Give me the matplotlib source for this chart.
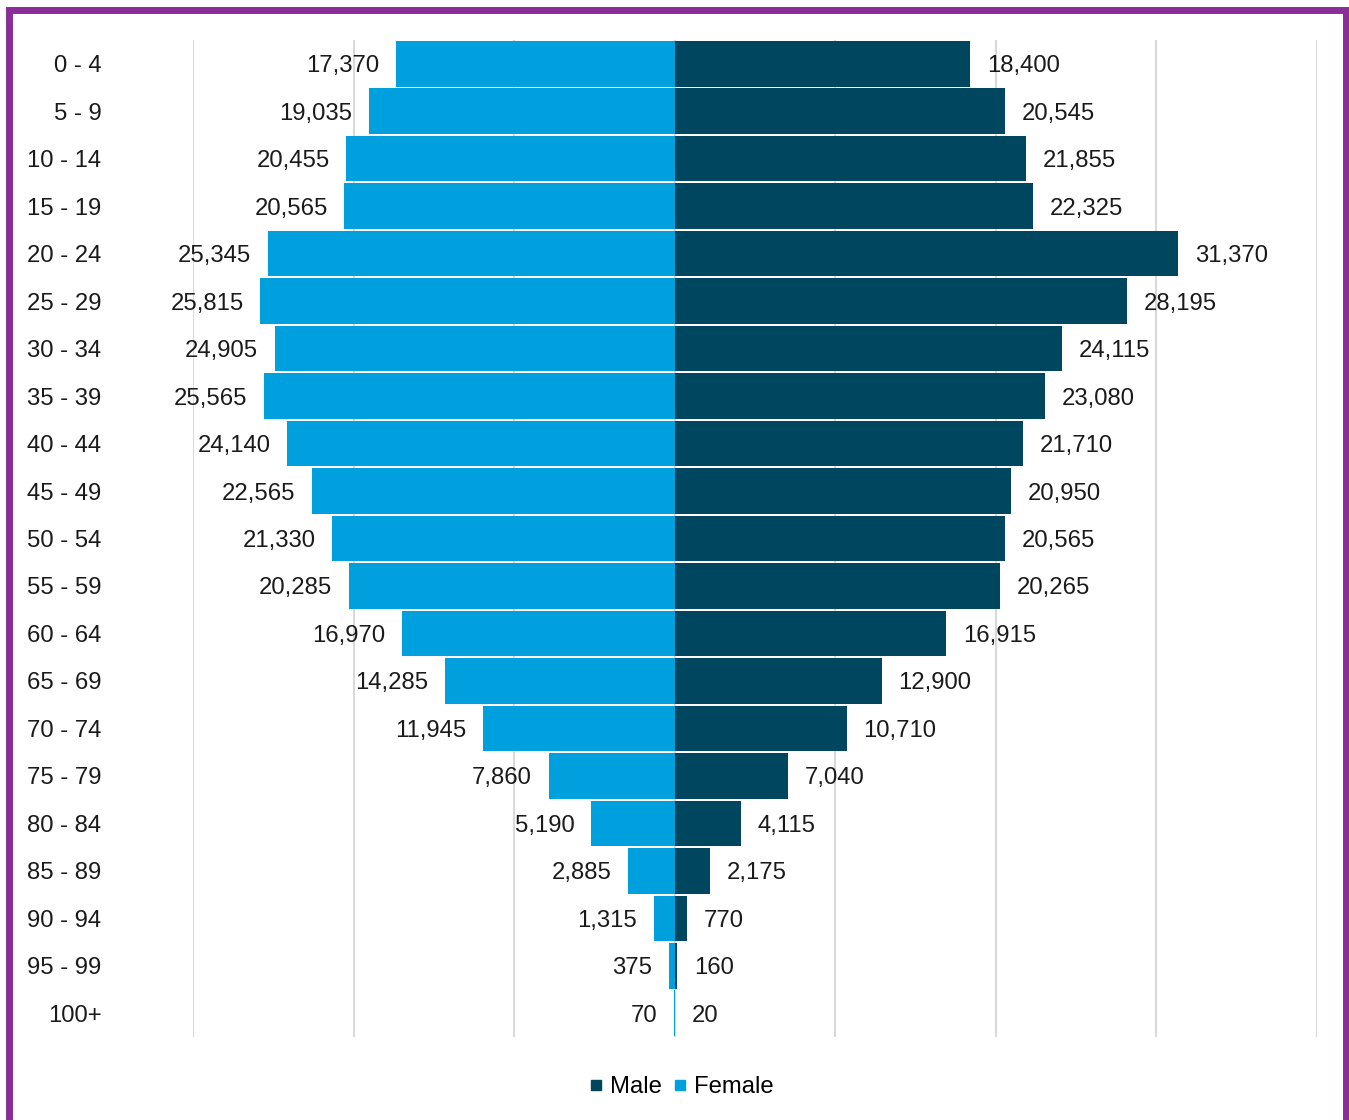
import numpy as np
import matplotlib.pyplot as plt
from matplotlib.patches import Rectangle
from matplotlib.lines import Line2D

plt.rcParams['font.family'] = ['Liberation Sans', 'DejaVu Sans']

age_groups = ['0 - 4', '5 - 9', '10 - 14', '15 - 19', '20 - 24', '25 - 29', '30 - 34',
              '35 - 39', '40 - 44', '45 - 49', '50 - 54', '55 - 59', '60 - 64', '65 - 69',
              '70 - 74', '75 - 79', '80 - 84', '85 - 89', '90 - 94', '95 - 99', '100+']
male = [18400, 20545, 21855, 22325, 31370, 28195, 24115, 23080, 21710, 20950, 20565,
        20265, 16915, 12900, 10710, 7040, 4115, 2175, 770, 160, 20]
female = [17370, 19035, 20455, 20565, 25345, 25815, 24905, 25565, 24140, 22565, 21330,
          20285, 16970, 14285, 11945, 7860, 5190, 2885, 1315, 375, 70]

male_col = '#00465F'
female_col = '#009FDE'
fs = 17.2

fig = plt.figure(figsize=(13.49, 11.2), dpi=100)
ax = fig.add_axes([193/1349, 1 - 1037/1120, (1317-193)/1349, (1037-40)/1120])

y = np.arange(len(age_groups))
ax.barh(y, male, height=0.96, color=male_col, zorder=2)
ax.barh(y, [-v for v in female], height=0.96, color=female_col, zorder=2)

for i in range(len(age_groups)):
    ax.annotate(f'{male[i]:,}', (male[i], i), xytext=(12, 0), textcoords='offset points',
                ha='left', va='center_baseline', fontsize=fs, color='#1a1a1a')
    ax.annotate(f'{female[i]:,}', (-female[i], i), xytext=(-12, 0), textcoords='offset points',
                ha='right', va='center_baseline', fontsize=fs, color='#1a1a1a')

ax.set_xlim(-30000, 40000)
ax.set_ylim(len(age_groups) - 0.5, -0.5)
ax.set_xticks(np.arange(-30000, 40001, 10000))
ax.set_xticklabels([])
ax.grid(axis='x', color='#d9d9d9', linewidth=1.5, zorder=0)
ax.set_axisbelow(True)
ax.tick_params(length=0)
ax.set_yticks(y)
ax.set_yticklabels(age_groups, fontsize=fs, color='#1a1a1a', va='center_baseline')
ax.tick_params(axis='y', pad=66)
for s in ax.spines.values():
    s.set_visible(False)

handles = [Line2D([], [], marker='s', linestyle='none', markersize=7.5, color=male_col),
           Line2D([], [], marker='s', linestyle='none', markersize=7.5, color=female_col)]
fig.legend(handles, ['Male', 'Female'], loc='center', bbox_to_anchor=(681/1349, 1 - 1087/1120),
           ncol=2, frameon=False, fontsize=fs, handlelength=0.6, handletextpad=0.3,
           columnspacing=0.45)

# purple frame round the whole figure
fig.patches.append(Rectangle((9/1349, -0.05), 1337/1349, 0.05 + 1 - 10/1120,
                             transform=fig.transFigure, fill=False,
                             edgecolor='#8A2D98', linewidth=5))

fig.savefig('out.png', dpi=100)
